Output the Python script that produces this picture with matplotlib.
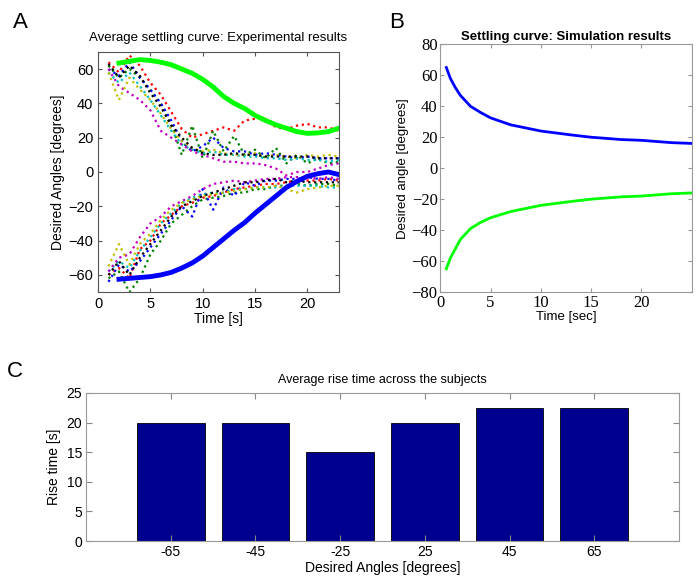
import numpy as np
import matplotlib
matplotlib.use("Agg")
import matplotlib.pyplot as plt

plt.rcParams['font.family'] = ['Liberation Sans', 'DejaVu Sans']

# ---- panel A data ----
t_exp = np.arange(1, 24)
up_red = [64, 58, 68, 62, 52, 45, 35, 25, 20, 22, 24, 26, 24, 30, 31, 31, 26, 25, 27, 28, 26, 26, 24]
up_green = [62, 55, 60, 55, 48, 40, 28, 10, 27, 8, 24, 12, 21, 10, 13, 8, 14, 5, 10, 5, 8, 5, 6]
up_blue = [60, 56, 64, 55, 48, 40, 30, 18, 12, 15, 20, 14, 12, 12, 10, 11, 10, 9, 8, 9, 8, 8, 8]
up_cyan = [58, 52, 58, 50, 42, 33, 24, 16, 13, 11, 12, 10, 10, 9, 9, 8, 8, 7, 8, 7, 7, 6, 7]
up_mag = [60, 50, 46, 42, 36, 24, 20, 16, 12, 10, 8, 6, 6, 5, 5, 4, 2, -2, 0, 0, 2, 4, 5]
up_yel = [58, 42, 55, 48, 42, 34, 25, 18, 14, 12, 13, 11, 10, 10, 11, 9, 10, 9, 8, 10, 9, 10, 9]
up_blk = [63, 55, 62, 56, 46, 38, 27, 20, 14, 11, 10, 10, 11, 10, 10, 9, 9, 9, 9, 9, 8, 8, 8]

lo_red = [-60, -56, -62, -45, -40, -30, -25, -20, -18, -15, -14, -12, -10, -9, -8, -7, -7, -6, -5, -5, -5, -4, -5]
lo_green = [-62, -58, -70, -62, -48, -40, -30, -25, -20, -16, -15, -14, -12, -12, -10, -10, -8, -8, -7, -8, -7, -7, -8]
lo_blue = [-64, -54, -58, -52, -44, -36, -28, -20, -26, -10, -22, -9, -14, -6, -8, -5, -5, -4, -4, -3, -4, -4, -5]
lo_cyan = [-58, -52, -56, -46, -38, -30, -24, -18, -15, -13, -12, -12, -10, -10, -9, -9, -9, -8, -8, -8, -8, -9, -9]
lo_mag = [-58, -50, -48, -38, -30, -26, -20, -17, -14, -10, -7, -6, -5, -6, -5, -4, -4, -3, -3, -3, -4, -3, -4]
lo_yel = [-55, -42, -54, -42, -36, -28, -22, -18, -16, -14, -13, -12, -11, -10, -9, -9, -8, -10, -12, -10, -9, -8, -8]
lo_blk = [-60, -52, -60, -50, -42, -34, -26, -20, -17, -14, -12, -10, -8, -6, -6, -5, -4, -6, -5, -6, -6, -6, -6]

t_avg = [2, 3, 4, 5, 6, 7, 8, 9, 10, 11, 12, 13, 14, 15, 16, 17, 18, 19, 20, 21, 22, 23]
avg_pos = [63.5, 64.5, 65.5, 65, 64, 62.5, 60, 57.5, 54, 49.5, 44, 40, 37, 33, 30, 27.5,
           25.5, 23.5, 22.5, 22.8, 23.5, 25.5]
avg_neg = [-62.5, -62, -61.5, -61, -60, -58.5, -56, -53, -49, -44, -39, -34, -29.5, -24,
           -19, -14, -9, -5.5, -2.5, -1, 0, -1.5]

# ---- panel B data ----
t_sim = [0.6, 1, 1.5, 2, 3, 4, 5, 7, 10, 13, 15, 18, 20, 23, 25]
sim_pos = [65, 58, 52, 47, 40, 36, 32.5, 28, 24, 21.5, 20, 18.5, 18, 16.5, 16]
sim_neg = [-65, -58, -52, -46, -39, -35, -32, -28, -24, -21.5, -20, -18.5, -18, -16.5, -16]

# ---- panel C data ----
angles = ['-65', '-45', '-25', '25', '45', '65']
rise_time = [20, 20, 15, 20, 22.5, 22.5]

fig = plt.figure(figsize=(7, 5.83), dpi=100)

# ================= A =================
axA = fig.add_axes([0.14, 0.499, 0.344, 0.412])
dot_cols = ['r', (0, 0.5, 0), 'b', 'c', 'm', 'y', 'k']
for col, d in zip(dot_cols, [up_red, up_green, up_blue, up_cyan, up_mag, up_yel, up_blk]):
    axA.plot(t_exp, d, ':', color=col, lw=1.6)
for col, d in zip(dot_cols, [lo_red, lo_green, lo_blue, lo_cyan, lo_mag, lo_yel, lo_blk]):
    axA.plot(t_exp, d, ':', color=col, lw=1.6)
axA.plot(t_avg, avg_pos, color=(0, 1, 0), lw=3.5)
axA.plot(t_avg, avg_neg, color=(0, 0, 1), lw=3.5)
axA.set_xlim(0, 23)
axA.set_ylim(-70, 70)
axA.set_xticks([0, 5, 10, 15, 20])
axA.set_yticks([-60, -40, -20, 0, 20, 40, 60])
axA.tick_params(labelsize=10.5, direction='in', top=True, right=True, length=3, color='#555')
for s in axA.spines.values():
    s.set_color('#555')
axA.set_title('Average settling curve: Experimental results', fontsize=9.5, pad=8)
axA.set_xlabel('Time [s]', fontsize=10, labelpad=1)
axA.set_ylabel('Desired Angles [degrees]', fontsize=10, labelpad=2)

# ================= B =================
axB = fig.add_axes([0.629, 0.499, 0.359, 0.425])
axB.plot(t_sim, sim_pos, color='b', lw=2)
axB.plot(t_sim, sim_neg, color=(0, 1, 0), lw=2)
axB.set_xlim(0, 25)
axB.set_ylim(-80, 80)
axB.set_xticks([0, 5, 10, 15, 20])
axB.set_yticks(range(-80, 81, 20))
axB.tick_params(direction='in', top=True, right=True, length=3, color='#999', pad=2)
for lab in axB.get_xticklabels() + axB.get_yticklabels():
    lab.set_family(['Liberation Serif', 'DejaVu Serif'])
    lab.set_fontsize(12)
for s in axB.spines.values():
    s.set_color('#999')
axB.set_title('Settling curve: Simulation results', fontsize=9.5, fontweight='bold', pad=3)
axB.set_xlabel('Time [sec]', fontsize=9.5, labelpad=0)
axB.set_ylabel('Desired angle [degrees]', fontsize=9.5, labelpad=2)

# ================= C =================
axC = fig.add_axes([0.123, 0.072, 0.847, 0.254])
xpos = np.arange(1, len(angles) + 1)
axC.bar(xpos, rise_time, width=0.8, color=(0, 0, 0.5625), edgecolor='k', linewidth=0.6)
axC.set_xlim(0, 7)
axC.set_ylim(0, 25)
axC.set_xticks(xpos)
axC.set_xticklabels(angles)
axC.set_yticks(range(0, 26, 5))
axC.tick_params(labelsize=10, direction='in', top=True, right=True, length=4, color='#888', pad=3)
for s in axC.spines.values():
    s.set_color('#999')
axC.set_title('Average rise time across the subjects', fontsize=9, pad=7)
axC.set_xlabel('Desired Angles [degrees]', fontsize=10, labelpad=1)
axC.set_ylabel('Rise time [s]', fontsize=10)

fig.text(0.029, 0.962, 'A', fontsize=16, ha='center', va='center')
fig.text(0.567, 0.962, 'B', fontsize=16, ha='center', va='center')
fig.text(0.021, 0.362, 'C', fontsize=16, ha='center', va='center')

fig.savefig('out.png', dpi=100)
